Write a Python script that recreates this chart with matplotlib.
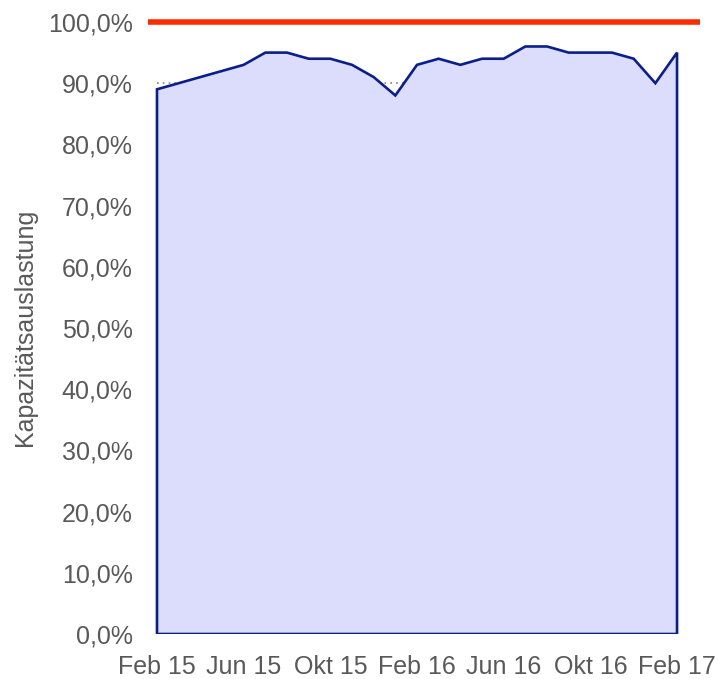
import matplotlib.pyplot as plt
import numpy as np

# monthly capacity utilisation (%), Feb 15 .. Feb 17
months = ["Feb 15", "Mrz 15", "Apr 15", "Mai 15", "Jun 15", "Jul 15", "Aug 15", "Sep 15",
          "Okt 15", "Nov 15", "Dez 15", "Jan 16", "Feb 16", "Mrz 16", "Apr 16", "Mai 16",
          "Jun 16", "Jul 16", "Aug 16", "Sep 16", "Okt 16", "Nov 16", "Dez 16", "Jan 17", "Feb 17"]
auslastung = [89, 90, 91, 92, 93, 95, 95, 94, 94, 93, 91, 88, 93, 94, 93, 94,
              94, 96, 96, 95, 95, 95, 94, 90, 95]
ziel = 90
maximum = 100
yticks = list(range(0, 101, 10))

plt.rcParams['font.family'] = ['Liberation Sans', 'DejaVu Sans']
grey = '#595959'

fig = plt.figure(figsize=(7.18, 6.79), dpi=100)
ax = fig.add_axes([148/718, 45/679, 552/718, 612/679])

x = np.arange(len(months))
ax.plot(x, [ziel]*len(x), linestyle=(0, (1, 2.5)), color='#7f7f7f', linewidth=1.2, zorder=1)

xs = np.concatenate([x, [x[-1], x[0]]])
ys = np.concatenate([auslastung, [0, 0]])
ax.fill(xs, ys, facecolor='#dcdcfc', edgecolor='#0a1f8a', linewidth=1.9, zorder=2)

ax.plot([-0.415, 25.06], [maximum, maximum], color='#ff2a00', linewidth=4, clip_on=False,
        solid_capstyle='butt', zorder=3)

ax.set_xlim(-0.415, 25.06)
ax.set_ylim(0, 100)
ax.set_xticks(x[::4])
ax.set_xticklabels(months[::4])
ax.set_yticks(yticks)
ax.set_yticklabels([f"{v},0%" for v in yticks])
ax.tick_params(length=0, labelsize=18, colors=grey)
ax.tick_params(axis='y', pad=11)
ax.tick_params(axis='x', pad=15)
for s in ax.spines.values():
    s.set_visible(False)

fig.text(25/718, 1 - 327/679, 'Kapazitätsauslastung', rotation=90, ha='center', va='center',
         fontsize=18, color=grey)

plt.savefig('out.png', dpi=100)
